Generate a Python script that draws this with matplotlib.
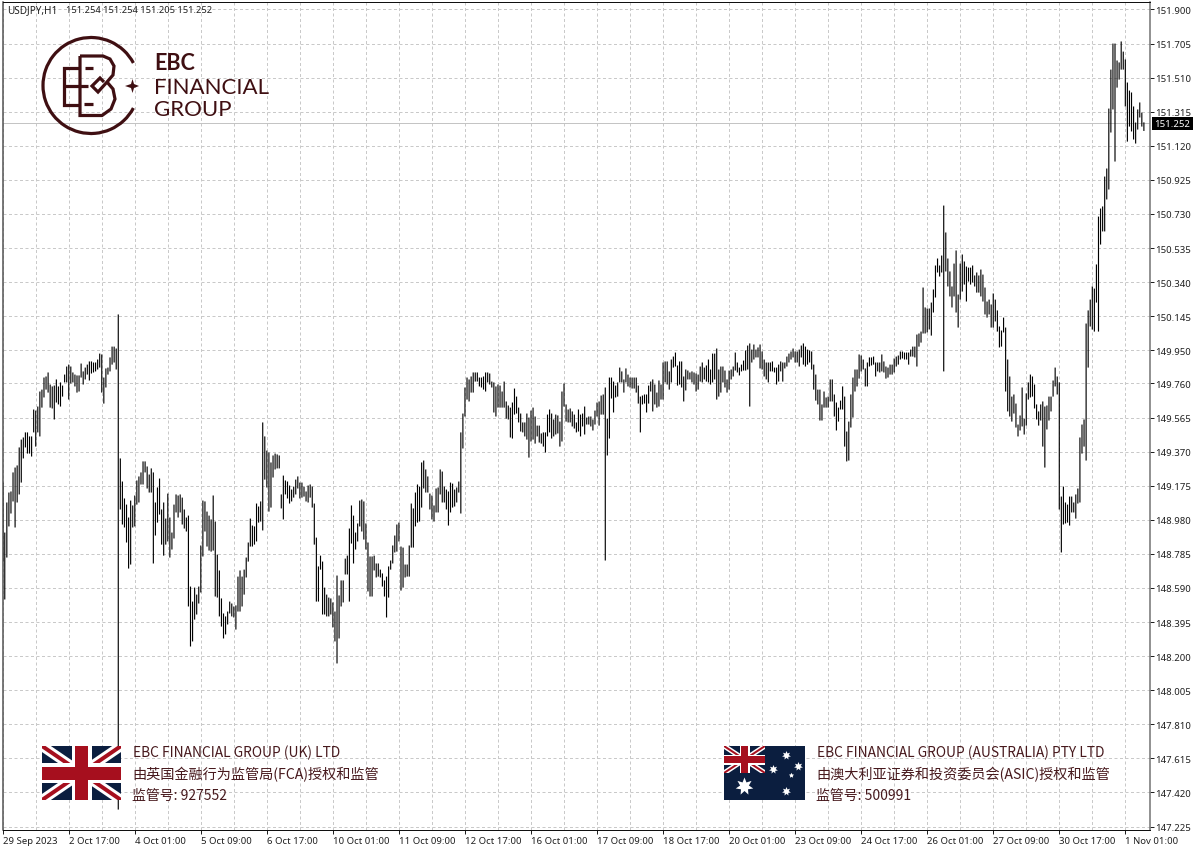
import numpy as np
import matplotlib
matplotlib.use("Agg")
import matplotlib.pyplot as plt
from matplotlib.patches import Rectangle, Arc, Polygon

# hourly bars, left to right
high_1 = [149.193,148.907,149.079,149.136,149.142,149.251,149.279,149.291,149.394,149.439,
          149.451,149.480,149.480,149.457,149.457,149.611,149.605,149.628,149.714,149.725,
          149.794,149.800,149.823,149.754,149.743,149.748,149.783,149.743,149.766,149.748,
          149.811,149.857,149.868,149.857,149.823,149.811,149.806,149.806,149.874,149.829,
          149.851,149.868,149.886,149.886,149.880,149.880,149.897,149.931,149.926,149.794,
          149.846,149.851,149.909,149.971,149.971,149.960,150.155]
low_1 = [148.741,148.524,148.764,148.942,149.016,149.085,148.936,149.079,149.125,149.193,
         149.331,149.394,149.359,149.359,149.342,149.480,149.399,149.480,149.457,149.622,
         149.680,149.725,149.708,149.622,149.617,149.554,149.651,149.640,149.628,149.685,
         149.766,149.766,149.668,149.760,149.766,149.743,149.708,149.714,149.794,149.754,
         149.783,149.811,149.777,149.817,149.823,149.829,149.840,149.851,149.708,149.645,
         149.737,149.811,149.829,149.868,149.880,149.840,147.322]

high_2 = [149.331,149.199,149.102,149.067,148.993,149.090,149.062,149.119,149.205,149.228,
          149.251,149.314,149.314,149.285,149.239,149.274,149.251,149.079,149.165,149.216,
          149.039,149.079,148.987,149.130,148.993,148.907,149.067,149.125,149.119,149.125,
          149.107,149.039,148.993,149.004,148.598,148.512,148.592,148.552,148.598,148.833,
          149.090,149.085,149.027,149.004,148.982,149.119,148.970,148.781,148.690,148.530,
          148.444,148.427,148.455,148.512,148.501,148.484,148.490,148.655,148.690,148.655,
          148.695,148.764,148.850,148.987,148.947,148.942,149.073,149.056,149.085,149.537,
          149.457,149.376,149.365,149.308,149.348,149.359,149.354,149.348,149.125,149.233,
          149.205,149.199,149.176,149.153,149.170,149.210,149.228,149.193]
low_2 = [149.039,148.953,148.936,148.850,148.701,148.724,148.936,148.942,149.067,149.079,
         149.182,149.182,149.251,149.159,149.136,149.136,148.730,148.890,148.964,149.010,
         148.838,148.775,148.838,148.856,148.764,148.810,148.873,149.022,148.993,149.022,
         148.953,148.930,148.913,148.484,148.255,148.284,148.409,148.438,148.501,148.564,
         148.770,148.913,148.827,148.804,148.798,148.804,148.541,148.535,148.427,148.369,
         148.301,148.324,148.381,148.444,148.427,148.421,148.352,148.455,148.455,148.484,
         148.552,148.650,148.741,148.827,148.827,148.838,148.856,148.964,148.970,148.919,
         149.210,149.165,149.027,149.050,149.222,149.268,149.274,149.274,149.045,148.982,
         149.125,149.102,149.073,149.085,149.107,149.125,149.159,149.102]

high_3 = [149.193,149.170,149.142,149.176,149.182,149.170,149.073,148.878,148.713,148.775,
          148.741,148.592,148.552,148.535,148.530,148.507,148.455,148.661,148.547,148.633,
          148.633,148.758,148.775,148.930,149.062,149.004,148.907,148.959,149.090,149.096,
          149.085,148.959,148.850,148.770,148.770,148.775,148.730,148.730,148.695,148.673,
          148.633,148.655,148.713,148.747,148.833,148.890,148.953,148.964,148.827,148.821,
          148.724,148.724,148.833,149.073,149.045,149.136,149.182,149.170,149.308,149.319,
          149.268,149.228,149.130,149.119,149.062,149.159,149.165,149.268,149.256,149.170,
          149.153,149.142,149.193,149.187,149.153,149.165,149.199,149.480,149.588,149.737,
          149.794,149.783,149.800,149.823,149.823,149.823,149.794,149.794,149.800,149.823,
          149.823,149.817,149.771,149.766,149.743,149.754,149.748,149.714,149.771,149.657,
          149.634,149.622,149.651,149.731,149.685,149.622,149.588,149.537,149.537,149.588,
          149.565,149.605,149.622,149.571,149.519,149.519,149.474,149.480,149.480,149.582,
          149.611,149.588,149.554,149.582,149.577,149.542,149.714,149.760,149.640,149.611,
          149.617,149.600,149.582,149.537,149.611,149.582,149.588,149.628,149.565,149.571,
          149.571,149.554,149.605,149.651,149.657,149.691,149.697,149.737,149.559,149.794,
          149.794,149.771,149.748,149.766,149.851,149.829,149.783,149.846,149.811,149.794,
          149.794,149.794,149.794,149.748,149.685,149.691,149.697,149.697,149.748]
low_3 = [149.107,149.113,149.085,149.079,149.107,149.050,148.838,148.512,148.512,148.695,
         148.438,148.438,148.427,148.427,148.438,148.364,148.284,148.158,148.301,148.484,
         148.507,148.667,148.667,148.512,148.844,148.730,148.810,148.856,148.942,148.913,
         148.867,148.810,148.570,148.541,148.541,148.690,148.650,148.655,148.650,148.598,
         148.541,148.421,148.535,148.695,148.730,148.793,148.798,148.856,148.575,148.592,
         148.650,148.655,148.655,148.821,148.821,148.942,148.964,148.970,149.050,149.159,
         149.136,149.136,149.039,148.982,148.970,149.022,149.022,149.125,149.079,149.079,
         149.039,148.947,149.022,149.050,149.056,149.079,149.136,149.016,149.388,149.571,
         149.668,149.657,149.708,149.708,149.771,149.771,149.743,149.737,149.725,149.714,
         149.766,149.754,149.737,149.594,149.571,149.622,149.622,149.622,149.622,149.559,
         149.554,149.451,149.445,149.582,149.588,149.537,149.485,149.480,149.457,149.439,
         149.336,149.428,149.439,149.416,149.457,149.422,149.416,149.399,149.365,149.457,
         149.480,149.445,149.457,149.468,149.474,149.399,149.428,149.628,149.542,149.537,
         149.537,149.514,149.502,149.480,149.485,149.457,149.514,149.468,149.525,149.525,
         149.514,149.491,149.525,149.571,149.519,149.582,149.582,148.747,149.348,149.445,
         149.674,149.594,149.680,149.685,149.766,149.766,149.708,149.766,149.743,149.737,
         149.731,149.731,149.708,149.645,149.480,149.640,149.645,149.594,149.645]

high_4 = [149.771,149.783,149.754,149.708,149.777,149.754,149.880,149.886,149.886,149.829,
          149.897,149.914,149.937,149.863,149.886,149.886,149.800,149.840,149.834,149.823,
          149.829,149.823,149.817,149.811,149.857,149.880,149.851,149.863,149.897,149.840,
          149.931,149.931,149.960,149.840,149.857,149.857,149.834,149.783,149.834,149.840,
          149.857,149.937,149.880,149.851,149.868,149.891,149.949,149.977,149.989,149.954,
          149.983,149.954,149.966,149.983,149.943,149.897,149.880,149.880,149.880,149.886,
          149.851,149.851,149.868,149.886,149.880,149.880,149.914,149.931,149.943,149.960,
          149.943,149.943,149.954,149.977,149.989,149.971,149.954,149.949,149.943,149.868,
          149.811,149.725,149.725,149.640,149.714,149.680,149.685,149.783,149.783,149.697,
          149.651,149.622,149.662,149.743,149.685,149.485,149.542,149.697,149.794,149.840,
          149.840,149.926,149.920,149.897,149.846,149.880,149.909,149.909,149.914,149.880,
          149.880,149.880,149.926,149.886,149.857,149.851,149.868,149.868,149.903,149.914,
          149.920,149.943,149.943,149.937,149.937,149.937,149.954,149.971,149.971,150.040,
          150.046,150.057]
low_4 = [149.714,149.600,149.640,149.622,149.628,149.668,149.668,149.766,149.754,149.725,
         149.766,149.851,149.857,149.748,149.754,149.737,149.657,149.720,149.783,149.783,
         149.766,149.754,149.714,149.725,149.771,149.766,149.783,149.771,149.766,149.754,
         149.766,149.783,149.668,149.685,149.708,149.766,149.737,149.708,149.725,149.783,
         149.800,149.834,149.823,149.806,149.829,149.834,149.834,149.840,149.628,149.880,
         149.897,149.909,149.909,149.846,149.840,149.800,149.783,149.766,149.829,149.829,
         149.823,149.754,149.771,149.829,149.771,149.846,149.857,149.880,149.897,149.909,
         149.880,149.880,149.857,149.909,149.868,149.857,149.868,149.880,149.840,149.725,
         149.662,149.640,149.548,149.548,149.622,149.622,149.622,149.657,149.657,149.571,
         149.491,149.542,149.611,149.611,149.399,149.314,149.319,149.508,149.565,149.714,
         149.743,149.788,149.829,149.840,149.743,149.743,149.857,149.863,149.868,149.800,
         149.829,149.823,149.829,149.823,149.788,149.794,149.811,149.811,149.823,149.857,
         149.868,149.897,149.903,149.897,149.897,149.868,149.914,149.914,149.909,149.857,
         149.971,149.994]

high_5 = [150.309,150.195,150.189,150.189,150.223,150.298,150.435,150.475,150.435,150.492,
          150.778,150.624,150.475,150.401,150.315,150.446,150.521,150.269,150.446,150.498,
          150.458,150.429,150.423,150.423,150.435,150.378,150.395,150.378,150.412,150.383,
          150.309,150.229,150.240,150.212,150.275,150.240,150.178,150.086,150.063,150.137,
          150.080,149.897,149.800,149.685,149.697,149.645,149.525,149.577,149.737,149.559,
          149.703,149.766,149.811,149.800,149.754,149.640,149.600,149.640,149.657,149.628,
          149.634,149.685,149.685,149.777,149.851,149.800,149.766,149.113,149.170,149.079,
          149.067,149.113,149.113,149.079,149.125,149.159,149.451,149.525,149.554,150.103,
          150.178,150.240,150.315,150.303,150.441,150.715,150.761,150.773,150.944,150.990,
          151.333,151.556,151.705,151.705,151.608,151.597,151.717,151.659,151.614,151.482,
          151.436,151.425,151.345,151.253,151.328,151.368,151.310,151.254]
low_5 = [150.046,150.046,150.052,150.069,150.034,150.166,150.252,150.395,150.372,150.395,
         149.829,150.401,150.315,150.258,150.195,150.258,150.166,150.080,150.240,150.286,
         150.326,150.229,150.343,150.326,150.338,150.315,150.280,150.280,150.258,150.229,
         150.155,150.137,150.155,150.080,150.080,150.115,150.057,149.966,149.971,150.052,
         149.714,149.600,149.571,149.542,149.588,149.508,149.457,149.491,149.514,149.468,
         149.519,149.668,149.680,149.685,149.617,149.554,149.519,149.548,149.399,149.279,
         149.497,149.548,149.600,149.685,149.743,149.697,149.039,148.793,148.953,148.959,
         148.964,148.947,149.022,149.022,148.987,149.073,149.079,149.359,149.399,149.319,
         149.851,150.086,150.069,150.057,150.223,150.057,150.555,150.630,150.630,150.813,
         150.870,151.196,151.328,151.030,151.453,151.499,151.556,151.556,151.345,151.144,
         151.230,151.202,151.156,151.133,151.213,151.282,151.230,151.205]

highs = high_1 + high_2 + high_3 + high_4 + high_5
lows = low_1 + low_2 + low_3 + low_4 + low_5

price_ticks = [151.900,151.705,151.510,151.315,151.120,150.925,150.730,150.535,150.340,
               150.145,149.950,149.760,149.565,149.370,149.175,148.980,148.785,148.590,
               148.395,148.200,148.005,147.810,147.615,147.420,147.225]
date_labels = ["29 Sep 2023","2 Oct 17:00","4 Oct 01:00","5 Oct 09:00","6 Oct 17:00",
               "10 Oct 01:00","11 Oct 09:00","12 Oct 17:00","16 Oct 01:00","17 Oct 09:00",
               "18 Oct 17:00","20 Oct 01:00","23 Oct 09:00","24 Oct 17:00","26 Oct 01:00",
               "27 Oct 09:00","30 Oct 17:00","1 Nov 01:00"]
last_price = 151.252

W, H = 1196, 862
MAROON = "#3f0f12"
TXT = "#47191d"
NAVY = "#0b1e3f"
RED = "#a60f1e"
CJK = ["Noto Sans CJK SC", "DejaVu Sans"]
px = 0.72  # one pixel in points at dpi 100

plt.rcParams["font.family"] = "Noto Sans"
fig = plt.figure(figsize=(W / 100, H / 100), dpi=100)
ax = fig.add_axes([2.5 / W, 1 - 830.5 / H, (1150 - 2.5) / W, (830.5 - 2.5) / H])

idx = np.arange(len(highs))
# soft edges on 2 px spacing, so packed bars read grey and lone ones dark
bars = ax.vlines(idx, lows, highs, color="black", lw=1.15 * px, zorder=3)
bars.set_snap(False)
ax.axhline(last_price, color="#c4c4c4", lw=1 * px, zorder=2)

ax.yaxis.tick_right()
ax.set_yticks(price_ticks)
ax.set_yticklabels(["%.3f" % p for p in price_ticks])
ax.set_xticks(np.arange(len(date_labels)) * 32)
ax.set_xticklabels(date_labels, ha="left")
ax.set_xticks(np.arange(len(date_labels) * 2) * 16, minor=True)
ax.set_xlim(-0.1, (1150 - 2.5) / 2.064)
ax.set_ylim(151.960 - 830.5 * 0.005722, 151.960 - 2.5 * 0.005722)
ax.tick_params(axis="y", length=3, width=1 * px, pad=1, labelsize=6.9, colors="#202020")
ax.tick_params(axis="x", which="major", length=3, width=1 * px, pad=1.5, labelsize=6.9, colors="#202020")
ax.tick_params(axis="x", which="minor", length=0)
ax.grid(True, which="both", color="#c9c9c9", lw=1 * px, ls=(0, (3, 2.5)), zorder=1)
ax.set_axisbelow(True)
for s in ["left", "bottom", "top"]:
    ax.spines[s].set_linewidth(1 * px)
    ax.spines[s].set_color("#101010")
ax.spines["left"].set_linewidth(1.5 * px)
ax.spines["left"].set_color("#505050")
ax.spines["right"].set_linewidth(1.5 * px)
ax.spines["right"].set_color("#707070")

# overlay in pixel coordinates for the logo, flags and notes
ov = fig.add_axes([0, 0, 1, 1], facecolor="none", zorder=5)
ov.set_xlim(0, W)
ov.set_ylim(H, 0)
ov.axis("off")

ov.text(7, 10.5, "USDJPY,H1", fontsize=7.2, color="#202020", va="center")
ov.text(66, 10.5, "151.254 151.254 151.205 151.252", fontsize=6.7, color="#202020", va="center")
ov.add_patch(Rectangle((1152, 118), 41, 13, fc="black", ec="none"))
ov.text(1172.5, 124.5, "151.252", color="white", fontsize=6.9, ha="center", va="center")

# logo
lw_logo = 3.2 * px
ov.add_patch(Arc((91, 86.5), 96, 96, theta1=28, theta2=332, color=MAROON, lw=lw_logo))
logo_paths = [
    [(80, 69), (64, 69), (64, 105.5), (80, 105.5)],
    [(64, 87), (88, 87)],
    [(85, 68.5), (93, 68.5)],
    [(84, 105), (93, 105)],
    [(80, 57), (103, 57), (110, 60), (114, 67), (113, 76), (107, 83), (98, 93), (92, 87), (100, 79), (104, 83)],
    [(107, 83), (113, 90), (115, 100), (111, 110), (102, 116.5), (80, 116.5), (80, 57)],
]
for path in logo_paths:
    xs, ys = zip(*path)
    ov.plot(xs, ys, color=MAROON, lw=lw_logo, solid_joinstyle="miter", solid_capstyle="butt")
ov.add_patch(Polygon([(125, 87), (131, 85), (132.5, 80), (134, 85), (139, 87), (134, 89), (132.5, 94), (131, 89)],
                     fc=MAROON, ec="none"))
ov.text(154, 64, "EBC", family="Lato", weight="bold", fontsize=15.5, color=MAROON, va="center")
ov.text(154, 88, "FINANCIAL", family="Lato", fontsize=16, color=MAROON, va="center")
ov.text(154, 110, "GROUP", family="Lato", fontsize=16, color=MAROON, va="center")


def union_jack(x0, y0, w, h):
    clip = Rectangle((x0, y0), w, h, transform=ov.transData)
    ov.add_patch(Rectangle((x0, y0), w, h, fc=NAVY, ec="none", zorder=6))
    unit = h / 54
    diag = [((x0, y0), (x0 + w, y0 + h)), ((x0, y0 + h), (x0 + w, y0))]
    for a, b in diag:
        ln, = ov.plot([a[0], b[0]], [a[1], b[1]], color="white", lw=10 * unit * px, zorder=7, solid_capstyle="butt")
        ln.set_clip_path(clip)
        ln, = ov.plot([a[0], b[0]], [a[1], b[1]], color=RED, lw=4 * unit * px, zorder=8, solid_capstyle="butt")
        ln.set_clip_path(clip)
    ov.add_patch(Rectangle((x0, y0 + h / 2 - 10 * unit), w, 20 * unit, fc="white", ec="none", zorder=9))
    ov.add_patch(Rectangle((x0 + w / 2 - 10 * unit, y0), 20 * unit, h, fc="white", ec="none", zorder=9))
    ov.add_patch(Rectangle((x0, y0 + h / 2 - 6.5 * unit), w, 13 * unit, fc=RED, ec="none", zorder=10))
    ov.add_patch(Rectangle((x0 + w / 2 - 6.5 * unit, y0), 13 * unit, h, fc=RED, ec="none", zorder=10))


union_jack(42, 747, 79, 54)

ov.add_patch(Rectangle((724, 747), 81, 54, fc=NAVY, ec="none", zorder=6))
union_jack(724, 747, 41, 27)
for sx, sy, ms, pts in [(744.3, 787.3, 15, 7), (786, 756, 7.5, 7), (798, 767, 7.5, 7),
                        (772.7, 770.3, 7.5, 7), (791.3, 776.3, 4.5, 5), (786, 792, 7.5, 7)]:
    ov.plot([sx], [sy], marker=(pts, 1, 0), ms=ms * px * 1.2, color="white", mec="none", zorder=11)

notes = [(133, ["EBC FINANCIAL GROUP (UK) LTD", "由英国金融行为监管局(FCA)授权和监管", "监管号: 927552"]),
         (817, ["EBC FINANCIAL GROUP (AUSTRALIA) PTY LTD", "由澳大利亚证券和投资委员会(ASIC)授权和监管", "监管号: 500991"])]
for nx, rows in notes:
    for ny, row, fs, nudge in zip([753, 775, 795.5], rows, [9.95, 10.2, 10], [0, -1, -0.5]):
        ov.text(nx + nudge, ny, row, family=CJK, fontsize=fs, color=TXT, va="center", zorder=12)

fig.savefig("out.png", dpi=100)
